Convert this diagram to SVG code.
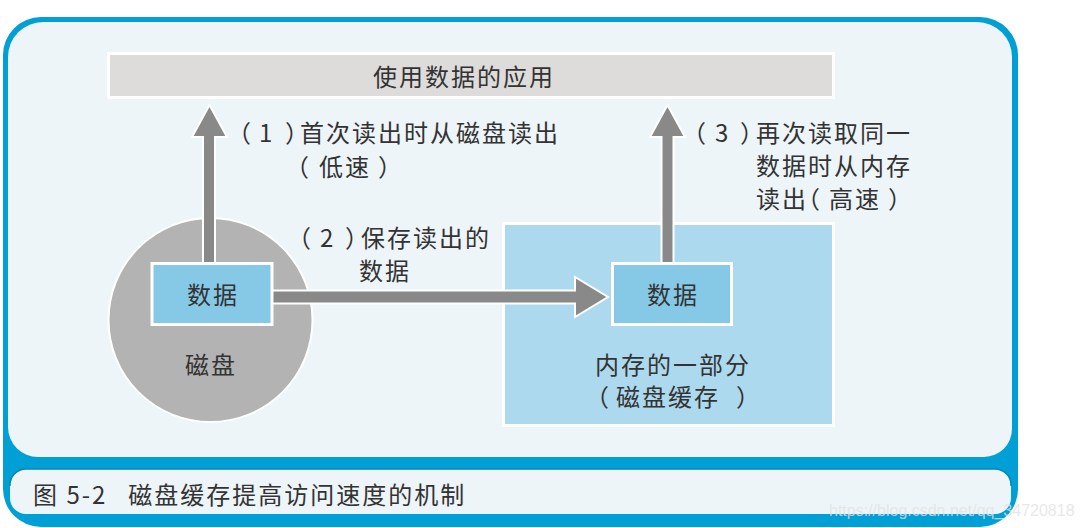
<svg xmlns="http://www.w3.org/2000/svg" width="1083" height="528" viewBox="0 0 1083 528">
  <style>
    .t { font-family: "Noto Sans CJK SC", "Noto Sans", sans-serif; font-size: 24px; fill: #333333; letter-spacing: 2px; }
    .c { text-anchor: middle; }
    .p { font-feature-settings: "halt" 1; }
    .arrow { fill: #898989; stroke: #ffffff; stroke-width: 2; stroke-linejoin: miter; }
    .box { fill: #86c9e7; stroke: #ffffff; stroke-width: 3; }
    .wm { font-family: "Liberation Sans", Arial, sans-serif; font-size: 16px; fill: #e2e2e2; fill-opacity: 0.8; }
  </style>
  <rect width="1083" height="528" fill="#ffffff"/>
  <g id="frame">
    <rect x="3" y="17" width="1015" height="510" rx="38" ry="38" fill="#009fd6"/>
    <path d="M 43 22 H 977 A 35 35 0 0 1 1012 57 V 429 A 28 28 0 0 1 984 457 H 38 A 30 30 0 0 1 8 427 V 57 A 35 35 0 0 1 43 22 Z" fill="#edf5f9"/>
    <rect x="10" y="469" width="1001" height="45" rx="16" ry="16" fill="#edf5f9"/>
    <path d="M 10 486 A 16 16 0 0 1 26 469 H 995 A 16 16 0 0 1 1011 486" fill="none" stroke="#0087b8" stroke-width="1.5"/>
    <text class="t" x="33" y="504">图 5-2<tspan style="letter-spacing:-3px">　</tspan>磁盘缓存提高访问速度的机制</text>
  </g>
  <g id="app">
    <rect x="108.5" y="53.5" width="725" height="44" fill="#dddcda" stroke="#ffffff" stroke-width="3"/>
    <text class="t c" x="464" y="86">使用数据的应用</text>
  </g>
  <g id="disk">
    <circle cx="210.5" cy="320" r="102" fill="#b3b3b3" stroke="#ffffff" stroke-width="2"/>
    <text class="t c" x="211" y="374">磁盘</text>
  </g>
  <g id="memory">
    <rect x="503.5" y="223.5" width="330" height="202" fill="#acd9ee" stroke="#ffffff" stroke-width="3"/>
    <text class="t c" x="673" y="374">内存的一部分</text>
    <text class="t" y="406"><tspan class="p" x="597">（</tspan><tspan x="616">磁盘缓存</tspan><tspan class="p" x="736">）</tspan></text>
  </g>
  <g id="connectors">
    <polygon class="arrow" points="203,266 203,137 192,137 209.5,105 227,137 215,137 215,266"/>
    <polygon class="arrow" points="661.5,266 661.5,137 650,137 667.5,105 685,137 673.5,137 673.5,266"/>
    <polygon class="arrow" points="270,290.5 575,290.5 575,277 608,297 575,317 575,303.5 270,303.5"/>
    <text class="t" y="142"><tspan class="p" x="239">（</tspan><tspan x="259">1</tspan><tspan class="p" x="285">）</tspan><tspan x="300">首次读出时从磁盘读出</tspan></text>
    <text class="t" y="176"><tspan class="p" x="297">（</tspan><tspan x="319">低速</tspan><tspan class="p" x="378">）</tspan></text>
    <text class="t" y="247"><tspan class="p" x="299">（</tspan><tspan x="320">2</tspan><tspan class="p" x="345">）</tspan><tspan x="361">保存读出的</tspan></text>
    <text class="t" x="359" y="280">数据</text>
    <text class="t" y="142"><tspan class="p" x="694">（</tspan><tspan x="715">3</tspan><tspan class="p" x="740">）</tspan><tspan x="756">再次读取同一</tspan></text>
    <text class="t" x="756" y="175">数据时从内存</text>
    <text class="t" y="208"><tspan x="756">读出</tspan><tspan class="p" x="808">（</tspan><tspan x="829">高速</tspan><tspan class="p" x="888">）</tspan></text>
  </g>
  <g id="data1">
    <rect class="box" x="152" y="263.5" width="120" height="61"/>
    <text class="t c" x="213" y="304">数据</text>
  </g>
  <g id="data2">
    <rect class="box" x="612.5" y="263.5" width="119" height="61"/>
    <text class="t c" x="673" y="304">数据</text>
  </g>
  <text class="wm" x="829" y="516">https://blog.csdn.net/qq_34720818</text>
</svg>
